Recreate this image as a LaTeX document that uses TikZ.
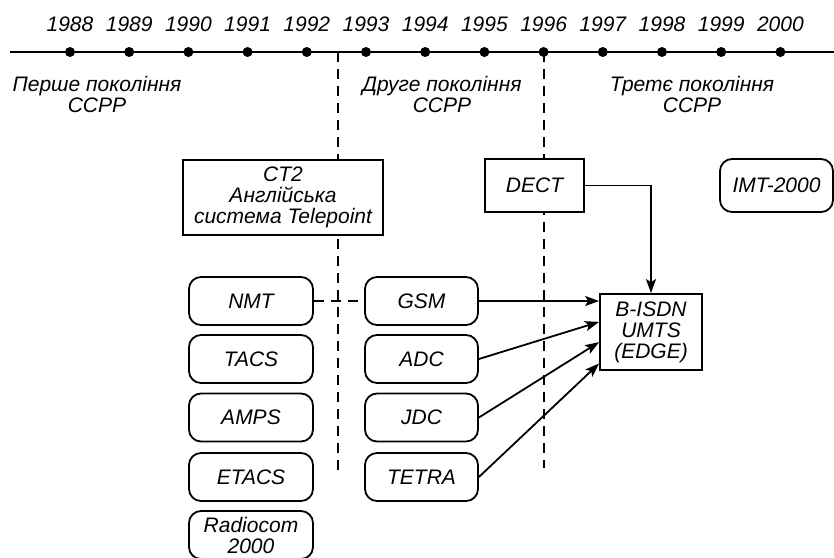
\documentclass[tikz,border=0pt]{standalone}
\usepackage{fontspec}
\setmainfont{Liberation Sans}
\usetikzlibrary{arrows.meta,calc}
\begin{document}
\begin{tikzpicture}[x=1pt,y=-1pt,
  txt/.style={font=\fontsize{21}{21}\selectfont\itshape, inner sep=0pt, align=center},
  boxline/.style={draw, line width=1.8pt, fill=white},
  sqbox/.style={txt, boxline, minimum width=#1},
  rbox/.style={txt, boxline, rounded corners=12pt, minimum width=#1, minimum height=48pt},
  yeardot/.style={circle, fill=black, inner sep=0pt, minimum size=10pt},
  dashline/.style={line width=1.5pt, dash pattern=on 10pt off 7pt},
  arr/.style={line width=1.8pt, -{Stealth[length=14pt,width=10pt,inset=3pt]}}
]
\clip (0,0) rectangle (834,557);

% generation boundaries
\coordinate (b1top) at (338,52);
\coordinate (b1bot) at (338,470);
\coordinate (b2top) at (544,52);
\coordinate (b2bot) at (544,468);
\draw[dashline] (b1top) -- (b1bot);
\draw[dashline] (b2top) -- (b2bot);

% time axis
\coordinate (axL) at (10,52);
\coordinate (axR) at (834,52);
\draw[line width=2.2pt] (axL) -- (axR);
\foreach \yr [count=\i from 0] in {1988,...,2000} {
  \node[yeardot] (d\yr) at (70+59.2*\i,52) {};
  \node[txt] (y\yr) at (70+59.2*\i,24) {\yr};
}

% generation captions
\node[txt] (gen1) at (97,94) {Перше покоління\\ССРР};
\node[txt] (gen2) at (442,94) {Друге покоління\\ССРР};
\node[txt] (gen3) at (692,94) {Третє покоління\\ССРР};

% cordless systems
\node[sqbox=200pt, minimum height=75pt] (ct2) at (283,197.5)
  {CT2\\Англійська\\система Telepoint};
\node[sqbox=99pt, minimum height=53pt] (dect) at (534.5,185.5) {DECT};
\node[rbox=113pt, minimum height=53pt] (imt) at (776.5,185.5) {IMT-2000};

% first generation
\node[rbox=124pt] (nmt)   at (251,301)   {NMT};
\node[rbox=124pt] (tacs)  at (251,359)   {TACS};
\node[rbox=124pt] (amps)  at (251,417.5) {AMPS};
\node[rbox=124pt] (etacs) at (251,477)   {ETACS};
\node[rbox=124pt] (radio) at (251,535)   {Radiocom\\2000};

% second generation
\node[rbox=113pt] (gsm)   at (421.5,301)   {GSM};
\node[rbox=113pt] (adc)   at (421.5,359)   {ADC};
\node[rbox=113pt] (jdc)   at (421.5,417.5) {JDC};
\node[rbox=113pt] (tetra) at (421.5,477)   {TETRA};

% third generation
\node[sqbox=102pt, minimum height=76pt] (bisdn) at (651,332)
  {B-ISDN\\UMTS\\(EDGE)};

% links
\draw[dashline] (nmt.east) -- (gsm.west);
\draw[arr] (gsm.east) -- (gsm.east -| bisdn.west);
\draw[arr] (adc.east) -- ($(bisdn.north west)!0.37!(bisdn.south west)$);
\draw[arr] (jdc.east) -- ($(bisdn.north west)!0.63!(bisdn.south west)$);
\draw[arr] (tetra.east) -- ($(bisdn.north west)!0.905!(bisdn.south west)$);
\draw[arr] (dect.east) -| (bisdn.north);
\end{tikzpicture}
\end{document}
